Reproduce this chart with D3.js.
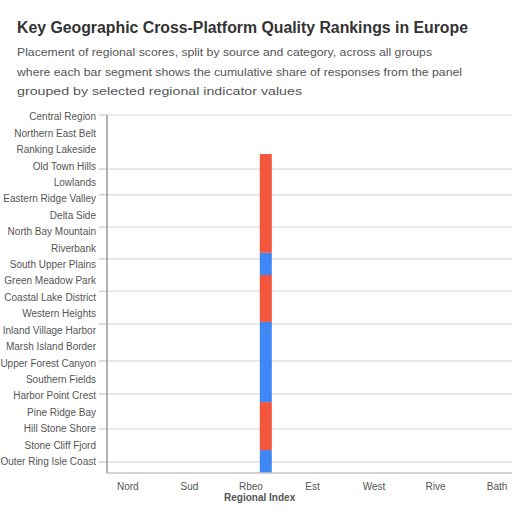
<!DOCTYPE html>
<html><head><meta charset="utf-8">
<script src="https://cdn.jsdelivr.net/npm/d3@7"></script>
<style>html,body{margin:0;padding:0;background:#fff;}svg{display:block;}</style>
</head><body><svg id="c" width="512" height="512"></svg>
<script>
const titleText = "Key Geographic Cross-Platform Quality Rankings in Europe";
const subtitleLines = [
  "Placement of regional scores, split by source and category, across all groups",
  "where each bar segment shows the cumulative share of responses from the panel",
  "grouped by selected regional indicator values"
];
const yLabels = ["Central Region","Northern East Belt","Ranking Lakeside","Old Town Hills","Lowlands","Eastern Ridge Valley","Delta Side","North Bay Mountain","Riverbank","South Upper Plains","Green Meadow Park","Coastal Lake District","Western Heights","Inland Village Harbor","Marsh Island Border","Upper Forest Canyon","Southern Fields","Harbor Point Crest","Pine Ridge Bay","Hill Stone Shore","Stone Cliff Fjord","Outer Ring Isle Coast"];
const xLabels = ["Nord","Sud","Rbeo","Est","West","Rive","Bath"];
const xTitle = "Regional Index";
const gridValues = [3.1, 12.3, 22.1, 31.3, 41.6, 50.8, 59.8, 68.7, 77.7, 84.9, 100];
const barPosition = [2.25];
const segmentSeries = ["Blue A","Red A","Blue B","Red B","Blue C","Red C"];
const segmentValues = [6.4, 13.4, 22.4, 13.1, 6.2, 27.6];
const segmentGroup = ["blue","red","blue","red","blue","red"];

const svg = d3.select("#c");
const color = d3.scaleOrdinal().domain(["red","blue"]).range(["#f4553d","#3f87f5"]);
const y = d3.scaleLinear().domain([0, 100]).range([473, 115]);
const x = d3.scaleLinear().domain([-0.33, 6.25]).range([107, 512]);
const yBand = d3.scaleBand().domain(yLabels).range([109, 470]);

svg.append("text").attr("x",17).attr("y",33).attr("font-family","Liberation Sans, Arial, sans-serif")
  .attr("font-weight","bold").attr("font-size",16).attr("fill","#333")
  .attr("textLength",451).attr("lengthAdjust","spacingAndGlyphs").text(titleText);
const subW = [415, 445, 285];
const subY = [56, 76, 95];
subtitleLines.forEach((t,i)=>{
  svg.append("text").attr("x",17).attr("y",subY[i]).attr("font-family","Liberation Sans, Arial, sans-serif")
    .attr("font-size",11).attr("fill","#555")
    .attr("textLength",subW[i]).attr("lengthAdjust","spacingAndGlyphs").text(t);
});

svg.append("g").selectAll("line").data(gridValues).join("line")
  .attr("x1",x(-0.33)).attr("x2",512).attr("y1",d=>y(d)).attr("y2",d=>y(d))
  .attr("stroke","#dcdcdc").attr("stroke-width",1.2);

svg.append("g").selectAll("line").data(gridValues).join("line")
  .attr("x1",x(-0.33)-8).attr("x2",x(-0.33)).attr("y1",d=>y(d)).attr("y2",d=>y(d))
  .attr("stroke","#bbb").attr("stroke-width",1);

const yAxis = d3.axisLeft(yBand).tickSize(0).tickPadding(0);
const gy = svg.append("g").attr("transform",`translate(${x(-0.33)-11},0)`).call(yAxis);
gy.select(".domain").remove();
gy.selectAll("text").attr("font-family","Liberation Sans, Arial, sans-serif").attr("font-size",10).attr("fill","#555");

let cum = 0;
const segs = segmentValues.map((v,i)=>{ const s={y0:cum,y1:cum+v,g:segmentGroup[i],name:segmentSeries[i]}; cum+=v; return s; });
svg.append("g").selectAll("rect").data(segs).join("rect")
  .attr("x",x(barPosition[0])-6).attr("width",12)
  .attr("y",d=>y(d.y1)).attr("height",d=>y(d.y0)-y(d.y1))
  .attr("fill",d=>color(d.g));

svg.append("line").attr("x1",x(-0.33)).attr("x2",x(-0.33)).attr("y1",y(100)).attr("y2",y(0)).attr("stroke","#999").attr("stroke-width",1.5);
svg.append("line").attr("x1",x(-0.33)).attr("x2",512).attr("y1",y(0)).attr("y2",y(0)).attr("stroke","#c4c4c4").attr("stroke-width",1.5);

const gx = svg.append("g").attr("transform",`translate(0,${y(0)})`)
  .call(d3.axisBottom(x).tickValues(d3.range(xLabels.length)).tickFormat(i=>xLabels[i]).tickSize(0).tickPadding(10));
gx.select(".domain").remove();
gx.selectAll("text").attr("font-family","Liberation Sans, Arial, sans-serif").attr("font-size",10).attr("fill","#555");

svg.append("text").attr("x",x(2.15)).attr("y",501).attr("text-anchor","middle")
  .attr("font-family","Liberation Sans, Arial, sans-serif").attr("font-size",10).attr("font-weight","bold").attr("fill","#555").text(xTitle);
</script></body></html>
